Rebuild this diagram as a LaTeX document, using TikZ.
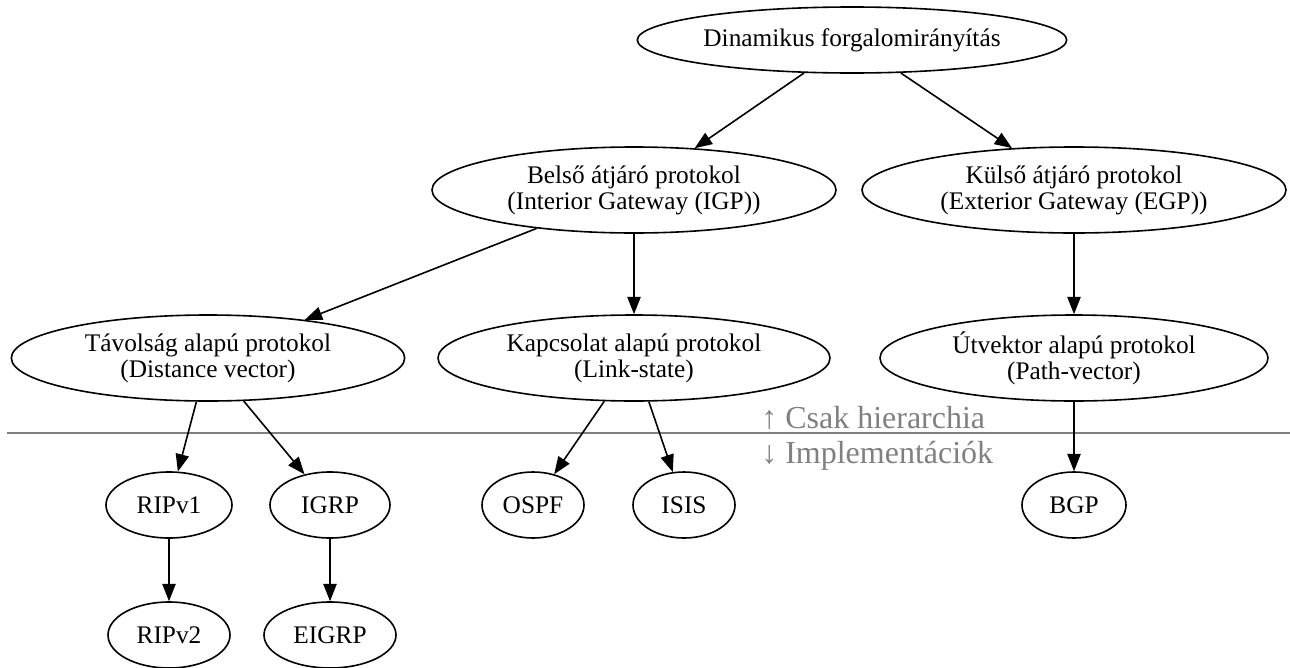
\documentclass[tikz,border=0pt]{standalone}
\usepackage{fontspec}
\setmainfont{Liberation Serif}
\usetikzlibrary{shapes.geometric,arrows.meta}
\tikzset{
  nd/.style={draw, ellipse, inner sep=0pt, line width=1.2pt, align=center,
    font=\fontsize{19pt}{19.5pt}\selectfont},
  edge/.style={draw, line width=1.2pt, -{Triangle[length=13pt,width=10pt]}},
  note/.style={text=gray, font=\fontsize{24pt}{26pt}\selectfont, anchor=west, inner sep=0pt}
}
\begin{document}
\begin{tikzpicture}[x=0.75pt,y=-0.75pt]
\useasboundingbox (0,0) rectangle (1290,668);
\node[nd, minimum width=322pt, minimum height=49.5pt] (dyn) at (852,40) {Dinamikus forgalomirányítás};
\node[nd, minimum width=303pt, minimum height=64.5pt] (igp) at (634,190) {Belső átjáró protokol\\(Interior Gateway (IGP))};
\node[nd, minimum width=318pt, minimum height=64.5pt] (egp) at (1074,190) {Külső átjáró protokol\\(Exterior Gateway (EGP))};
\node[nd, minimum width=295pt, minimum height=64.5pt] (dv) at (208,358) {Távolság alapú protokol\\(Distance vector)};
\node[nd, minimum width=294pt, minimum height=64.5pt] (ls) at (634,358) {Kapcsolat alapú protokol\\(Link-state)};
\node[nd, minimum width=291pt, minimum height=64.5pt] (pv) at (1074,358) {Útvektor alapú protokol\\(Path-vector)};
\node[nd, minimum width=94.5pt, minimum height=49.5pt] (rip1) at (169,505) {RIPv1};
\node[nd, minimum width=90pt, minimum height=49.5pt] (igrp) at (330,505) {IGRP};
\node[nd, minimum width=76.5pt, minimum height=49.5pt] (ospf) at (533,505) {OSPF};
\node[nd, minimum width=76.5pt, minimum height=49.5pt] (isis) at (684,505) {ISIS};
\node[nd, minimum width=78pt, minimum height=49.5pt] (bgp) at (1074,505) {BGP};
\node[nd, minimum width=91.5pt, minimum height=49.5pt] (rip2) at (169,635) {RIPv2};
\node[nd, minimum width=99pt, minimum height=49.5pt] (eigrp) at (330,635) {EIGRP};
\coordinate (l1) at (7,433);
\coordinate (l2) at (1290,433);
\draw[gray, line width=0.9pt] (l1) -- (l2);
\node[note, anchor=base west] (up) at (761,428) {↑ Csak hierarchia};
\node[note, anchor=base west] (down) at (761,463) {↓ Implementációk};
\path[edge] (dyn) -- (igp);
\path[edge] (dyn) -- (egp);
\path[edge] (igp) -- (dv);
\path[edge] (igp) -- (ls);
\path[edge] (egp) -- (pv);
\path[edge] (dv) -- (rip1);
\path[edge] (dv) -- (igrp);
\path[edge] (ls) -- (ospf);
\path[edge] (ls) -- (isis);
\path[edge] (pv) -- (bgp);
\path[edge] (rip1) -- (rip2);
\path[edge] (igrp) -- (eigrp);
\end{tikzpicture}
\end{document}
